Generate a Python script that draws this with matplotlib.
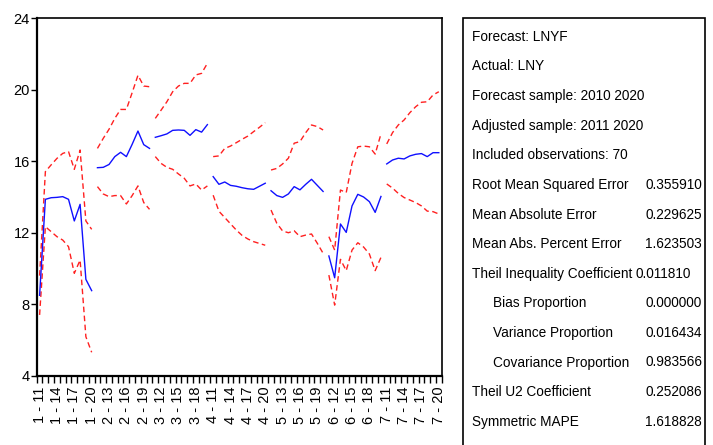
import matplotlib.pyplot as plt
from matplotlib.patches import Rectangle
import numpy as np

plt.rcParams['font.family'] = ['Liberation Sans', 'DejaVu Sans']

# cross sections and years (2011-2020) on the x axis
sections = [1, 2, 3, 4, 5, 6, 7]
years = [11, 12, 13, 14, 15, 16, 17, 18, 19, 20]

# forecast LNYF, 10 obs per cross section
lnyf = [
    8.50, 13.87, 13.96, 13.98, 14.02, 13.87, 12.66, 13.59, 9.39, 8.76,
    15.64, 15.66, 15.82, 16.26, 16.50, 16.26, 16.95, 17.69, 16.93, 16.72,
    17.34, 17.43, 17.53, 17.73, 17.75, 17.73, 17.45, 17.77, 17.63, 18.05,
    15.14, 14.71, 14.84, 14.65, 14.60, 14.52, 14.46, 14.43, 14.60, 14.77,
    14.35, 14.08, 13.98, 14.17, 14.58, 14.40, 14.71, 14.99, 14.65, 14.31,
    10.70, 9.48, 12.49, 12.02, 13.50, 14.15, 14.00, 13.74, 13.14, 14.03,
    15.85, 16.07, 16.17, 16.13, 16.30, 16.39, 16.43, 16.26, 16.48, 16.48,
]
# +/- 2 S.E. bands
upper = [
    9.60, 15.42, 15.80, 16.16, 16.44, 16.54, 15.55, 16.63, 12.66, 12.19,
    16.72, 17.28, 17.79, 18.40, 18.90, 18.90, 19.84, 20.81, 20.21, 20.17,
    18.40, 18.86, 19.33, 19.89, 20.21, 20.36, 20.36, 20.83, 20.92, 21.48,
    16.26, 16.30, 16.72, 16.85, 17.04, 17.23, 17.41, 17.66, 17.90, 18.16,
    15.51, 15.60, 15.85, 16.17, 17.01, 17.10, 17.60, 18.03, 17.94, 17.75,
    11.78, 11.03, 14.39, 14.25, 15.88, 16.81, 16.85, 16.81, 16.40, 17.53,
    16.97, 17.60, 18.03, 18.31, 18.72, 19.05, 19.30, 19.33, 19.71, 19.89,
]
lower = [
    7.40, 12.34, 12.06, 11.78, 11.59, 11.22, 9.73, 10.47, 6.18, 5.31,
    14.58, 14.17, 14.02, 14.08, 14.08, 13.61, 14.08, 14.62, 13.69, 13.31,
    16.26, 15.88, 15.66, 15.55, 15.29, 15.05, 14.62, 14.73, 14.39, 14.62,
    14.10, 13.20, 12.85, 12.50, 12.15, 11.85, 11.65, 11.50, 11.40, 11.30,
    13.27, 12.53, 12.10, 12.00, 12.11, 11.78, 11.87, 11.93, 11.41, 10.85,
    9.63, 7.95, 10.51, 9.88, 11.03, 11.44, 11.20, 10.81, 9.88, 10.62,
    14.73, 14.50, 14.20, 13.97, 13.83, 13.69, 13.50, 13.21, 13.18, 13.05,
]

stat_names = [
    'Forecast: LNYF', 'Actual: LNY', 'Forecast sample: 2010 2020',
    'Adjusted sample: 2011 2020', 'Included observations: 70',
    'Root Mean Squared Error', 'Mean Absolute Error', 'Mean Abs. Percent Error',
    'Theil Inequality Coefficient', 'Bias Proportion', 'Variance Proportion',
    'Covariance Proportion', 'Theil U2 Coefficient', 'Symmetric MAPE',
]
stat_values = [
    '', '', '', '', '',
    '0.355910', '0.229625', '1.623503', '0.011810', '0.000000',
    '0.016434', '0.983566', '0.252086', '1.618828',
]
indented = ['Bias Proportion', 'Variance Proportion', 'Covariance Proportion']

W, H = 713, 445
fig = plt.figure(figsize=(W / 100, H / 100), dpi=100)
ax = fig.add_axes([36.7 / W, 1 - 375.7 / H, 405 / W, 357.4 / H])

n = len(years)
labels = [f'{s} - {y}' for s in sections for y in years]

# one segment per cross section, no line across sections
for k in range(len(sections)):
    x = np.arange(k * n, (k + 1) * n)
    sl = slice(k * n, (k + 1) * n)
    ax.plot(x, upper[sl], color='#ff2020', lw=1.0, dashes=(4, 2.5))
    ax.plot(x, lower[sl], color='#ff2020', lw=1.0, dashes=(4, 2.5))
    ax.plot(x, lnyf[sl], color='#1010ff', lw=1.0)

ax.set_xlim(-0.5, len(labels) - 0.5)
ax.set_ylim(4, 24)
ax.set_yticks([4, 8, 12, 16, 20, 24])
ax.tick_params(axis='y', direction='out', length=4, width=1, pad=1, labelsize=10.5)

# boundary ticks + labels every 3 obs
ax.set_xticks(np.arange(len(labels) + 1) - 0.5, minor=True)
ax.set_xticks(np.arange(0, len(labels), 3))
ax.set_xticklabels(labels[::3], rotation=90, fontsize=10.5)
ax.tick_params(axis='x', which='minor', direction='out', length=5, width=1)
ax.tick_params(axis='x', which='major', length=0, pad=8)

for side in ['left', 'bottom']:
    ax.spines[side].set_linewidth(1.6)
for side in ['top', 'right']:
    ax.spines[side].set_linewidth(1.2)

# statistics box
fig.patches.append(Rectangle((462.7 / W, -0.02), (704.5 - 462.7) / W, 1.02 - 18.3 / H,
                             transform=fig.transFigure, fill=False, lw=1.2,
                             edgecolor='black'))
for i, (name, val) in enumerate(zip(stat_names, stat_values)):
    y = 1 - (36.9 + i * 29.6) / H
    x = 493 if name in indented else 471.5
    fig.text(x / W, y, name, fontsize=9.8, va='center', ha='left')
    if val:
        vx = 635 if name.startswith('Theil Ineq') else 645
        fig.text(vx / W, y, val, fontsize=9.8, va='center', ha='left')

fig.savefig('out.png', dpi=100)
